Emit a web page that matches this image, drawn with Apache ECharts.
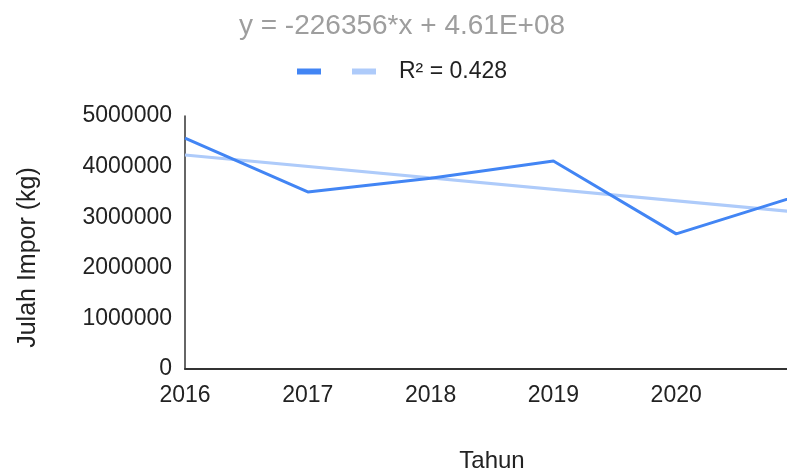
<!DOCTYPE html>
<html>
<head>
<meta charset="utf-8">
<script src="https://cdn.jsdelivr.net/npm/echarts@6/dist/echarts.min.js"></script>
<style>
  html, body { margin: 0; padding: 0; background: #fff; }
  #chart { width: 787px; height: 472px; }
</style>
</head>
<body>
<div id="chart"></div>
<script>
// data
const years = [2016, 2017, 2018, 2019, 2020, 2021];
const impor = [4565000, 3500000, 3770000, 4110000, 2670000, 3430000];
// trendline end points (y = -226356*x + 4.61E+08)
const trendYears = [2016, 2021];
const trendValues = [4230000, 3098000];
const titleText = "y = -226356*x + 4.61E+08";
const trendName = "R\u00b2 = 0.428";

const font = "Arial, 'Liberation Sans', sans-serif";

const chart = echarts.init(document.getElementById("chart"));

const option = {
  animation: false,
  title: {
    text: titleText,
    left: 397,
    textAlign: "center",
    top: 7,
    textStyle: { color: "#9e9e9e", fontSize: 28, fontWeight: "normal", fontFamily: font },
  },
  legend: {
    top: 55,
    left: 292,
    itemWidth: 24,
    itemHeight: 6,
    itemGap: 31,
    icon: "rect",
    formatter: (name) => (name === "Impor" ? "" : name),
    textStyle: { color: "#222", fontSize: 23, fontFamily: font, padding: [0, 0, 0, 18] },
    data: ["Impor", trendName],
  },
  grid: { left: 185, top: 116, right: -12, bottom: 103, outerBoundsMode: "none" },
  xAxis: {
    type: "value",
    min: 2016,
    max: 2021,
    interval: 1,
    name: "Tahun",
    nameLocation: "middle",
    nameGap: 80,
    nameTextStyle: { color: "#222", fontSize: 24, fontFamily: font },
    axisLine: { lineStyle: { color: "#333", width: 2 } },
    axisTick: { show: false },
    splitLine: { show: false },
    axisLabel: {
      color: "#222",
      fontSize: 23,
      fontFamily: font,
      margin: 15,
      showMaxLabel: false,
      formatter: (v) => String(v),
    },
  },
  yAxis: {
    type: "value",
    min: 0,
    max: 5000000,
    interval: 1000000,
    name: "Julah Impor (kg)",
    nameLocation: "middle",
    nameGap: 144,
    nameTextStyle: { color: "#222", fontSize: 25, fontFamily: font, padding: [0, 30, 0, 0] },
    axisLine: { show: true, lineStyle: { color: "#333", width: 1.5 } },
    axisTick: { show: false },
    splitLine: { show: false },
    axisLabel: {
      color: "#222",
      fontSize: 23,
      fontFamily: font,
      margin: 13,
      formatter: (v) => String(v),
    },
  },
  series: [
    {
      name: "Impor",
      type: "line",
      data: years.map((y, i) => [y, impor[i]]),
      symbol: "none",
      lineStyle: { color: "#4285f4", width: 3 },
      itemStyle: { color: "#4285f4" },
      z: 3,
    },
    {
      name: trendName,
      type: "line",
      data: trendYears.map((y, i) => [y, trendValues[i]]),
      symbol: "none",
      lineStyle: { color: "#aecbfa", width: 3 },
      itemStyle: { color: "#aecbfa" },
      z: 2,
    },
  ],
};

chart.setOption(option);
</script>
</body>
</html>
